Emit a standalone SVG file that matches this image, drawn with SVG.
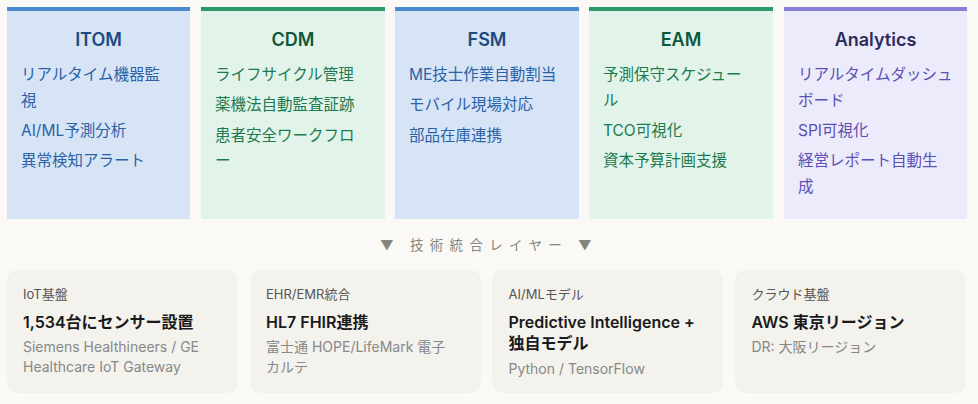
<svg xmlns="http://www.w3.org/2000/svg" width="978" height="404" viewBox="0 0 978 404">
<style>
text{font-family:Inter,"Noto Sans CJK JP",sans-serif}
.ttl{font-size:18px;font-weight:600;text-anchor:middle}
.it{font-size:15.5px}
.blue .bg{fill:#d6e4f6}.blue .st{fill:#4a88d0}.blue .ttl{fill:#1c4a80}.blue .it{fill:#2b62a6}
.green .bg{fill:#e2f4ea}.green .st{fill:#2a9a68}.green .ttl{fill:#0e583a}.green .it{fill:#1d7a50}
.purple .bg{fill:#ecebfb}.purple .st{fill:#8a7fd6}.purple .ttl{fill:#2e2b5c}.purple .it{fill:#5b50b5}
.card{fill:#f3f2ed}
.lb{font-size:13px;fill:#555}
.bt{font-size:16px;font-weight:600;fill:#1a1a1a}
.sb{font-size:14px;fill:#888}
.mid{font-size:13.5px;fill:#85857f;letter-spacing:6.3px;text-anchor:middle}
</style>
<rect width="978" height="404" fill="#faf9f5"/>
<g id="itom" class="blue">
<rect class="bg" x="7" y="7" width="183" height="212"/>
<rect class="st" x="7" y="7" width="183" height="4"/>
<text class="ttl" x="98.5" y="46">ITOM</text>
<text class="it" x="21" y="80">リアルタイム機器監</text>
<text class="it" x="21" y="105.5">視</text>
<text class="it" x="21" y="135.5">AI/ML予測分析</text>
<text class="it" x="21" y="166">異常検知アラート</text>
</g>
<g id="cdm" class="green">
<rect class="bg" x="201" y="7" width="184" height="212"/>
<rect class="st" x="201" y="7" width="184" height="4"/>
<text class="ttl" x="293" y="46">CDM</text>
<text class="it" x="215" y="80">ライフサイクル管理</text>
<text class="it" x="215" y="110">薬機法自動監査証跡</text>
<text class="it" x="215" y="140.5">患者安全ワークフロ</text>
<text class="it" x="215" y="166">ー</text>
</g>
<g id="fsm" class="blue">
<rect class="bg" x="395" y="7" width="184" height="212"/>
<rect class="st" x="395" y="7" width="184" height="4"/>
<text class="ttl" x="487" y="46">FSM</text>
<text class="it" x="409" y="80">ME技士作業自動割当</text>
<text class="it" x="409" y="110">モバイル現場対応</text>
<text class="it" x="409" y="140.5">部品在庫連携</text>
</g>
<g id="eam" class="green">
<rect class="bg" x="589" y="7" width="184" height="212"/>
<rect class="st" x="589" y="7" width="184" height="4"/>
<text class="ttl" x="681" y="46">EAM</text>
<text class="it" x="603" y="80">予測保守スケジュー</text>
<text class="it" x="603" y="105.5">ル</text>
<text class="it" x="603" y="135.5">TCO可視化</text>
<text class="it" x="603" y="166">資本予算計画支援</text>
</g>
<g id="analytics" class="purple">
<rect class="bg" x="784" y="7" width="183" height="212"/>
<rect class="st" x="784" y="7" width="183" height="4"/>
<text class="ttl" x="875.5" y="46">Analytics</text>
<text class="it" x="798" y="80">リアルタイムダッシュ</text>
<text class="it" x="798" y="105.5">ボード</text>
<text class="it" x="798" y="135.5">SPI可視化</text>
<text class="it" x="798" y="166">経営レポート自動生</text>
<text class="it" x="798" y="191.5">成</text>
</g>
<g id="layer-label">
<text class="mid" x="489" y="250">▼ 技術統合レイヤー ▼</text>
</g>
<g id="iot">
<rect class="card" x="7" y="270" width="231" height="123" rx="10"/>
<text class="lb" x="23" y="299">IoT基盤</text>
<text class="bt" x="23" y="328">1,534台にセンサー設置</text>
<text class="sb" x="23" y="352">Siemens Healthineers / GE</text>
<text class="sb" x="23" y="372">Healthcare IoT Gateway</text>
</g>
<g id="ehr">
<rect class="card" x="250" y="270" width="231" height="123" rx="10"/>
<text class="lb" x="266" y="299">EHR/EMR統合</text>
<text class="bt" x="266" y="328">HL7 FHIR連携</text>
<text class="sb" x="266" y="352">富士通 HOPE/LifeMark 電子</text>
<text class="sb" x="266" y="372">カルテ</text>
</g>
<g id="aiml">
<rect class="card" x="492" y="270" width="231" height="123" rx="10"/>
<text class="lb" x="508.5" y="299">AI/MLモデル</text>
<text class="bt" x="508.5" y="328">Predictive Intelligence +</text>
<text class="bt" x="508.5" y="349">独自モデル</text>
<text class="sb" x="508.5" y="374">Python / TensorFlow</text>
</g>
<g id="cloud">
<rect class="card" x="735" y="270" width="231" height="123" rx="10"/>
<text class="lb" x="751.5" y="299">クラウド基盤</text>
<text class="bt" x="751.5" y="328">AWS 東京リージョン</text>
<text class="sb" x="751.5" y="352">DR: 大阪リージョン</text>
</g>
<g id="connectors"/>
</svg>
